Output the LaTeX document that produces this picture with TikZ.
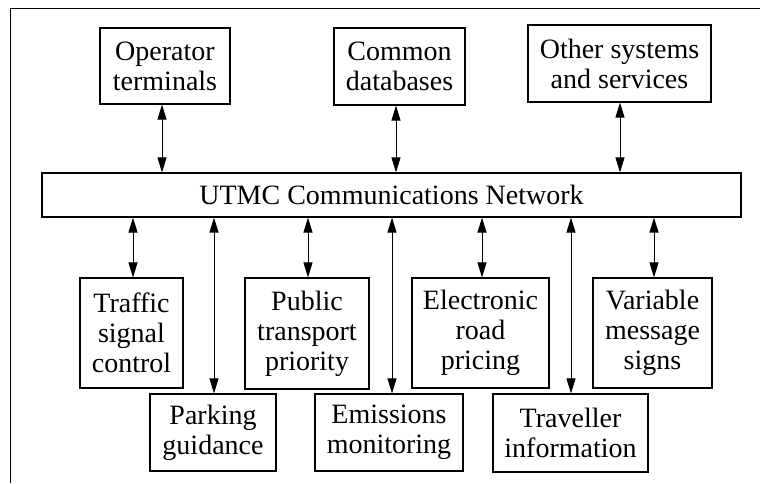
\documentclass[tikz,border=0pt]{standalone}
\usepackage{fontspec}
\setmainfont{Liberation Serif}
\usetikzlibrary{arrows.meta}
\tikzset{
  unit/.style={draw=black, line width=1.2pt, fill=white, inner sep=0pt,
    align=center, font=\fontsize{28}{30}\selectfont},
  link/.style={draw=black, line width=0.9pt,
    {Triangle[length=15pt,width=9pt]}-{Triangle[length=15pt,width=9pt]}},
  frame/.style={draw=black, line width=1pt}
}
\begin{document}
\begin{tikzpicture}[x=1pt,y=-1pt]
\useasboundingbox (0,0) rectangle (760,483);
% open frame along the top and left edges
\coordinate (fa) at (10,483);
\coordinate (fb) at (10,8);
\coordinate (fc) at (760,8);
\draw[frame] (fa) -- (fb) -- (fc);

% upper systems
\node[unit, minimum width=130pt, minimum height=76pt] (op) at (165,66) {Operator\\terminals};
\node[unit, minimum width=131pt, minimum height=77pt] (db) at (399.5,66.5) {Common\\databases};
\node[unit, minimum width=183pt, minimum height=77pt] (os) at (619.5,63.5) {Other systems\\and services};

% network bar
\node[unit, minimum width=699pt, minimum height=44pt] (net) at (391.5,195) {UTMC Communications Network};

% lower systems, first row
\node[unit, minimum width=103pt, minimum height=110pt] (tsc) at (131.5,333) {Traffic\\signal\\control};
\node[unit, minimum width=124pt, minimum height=111pt] (ptp) at (307,333.5) {Public\\transport\\priority};
\node[unit, minimum width=137pt, minimum height=110pt] (erp) at (480.5,333) {Electronic\\road\\pricing};
\node[unit, minimum width=119pt, minimum height=110pt] (vms) at (652.5,333) {Variable\\message\\signs};

% lower systems, second row
\node[unit, minimum width=126pt, minimum height=77pt] (pg) at (213,432.5) {Parking\\guidance};
\node[unit, minimum width=148pt, minimum height=77pt] (em) at (389,432.5) {Emissions\\monitoring};
\node[unit, minimum width=155pt, minimum height=78pt] (ti) at (570.5,433) {Traveller\\information};

% links to the network
\draw[link] ([xshift=-3pt]op.south) -- ([xshift=-3pt]op.south |- net.north);
\draw[link] ([xshift=-3.5pt]db.south) -- ([xshift=-3.5pt]db.south |- net.north);
\draw[link] ([xshift=0.5pt]os.south) -- ([xshift=0.5pt]os.south |- net.north);

\draw[link] ([xshift=1.5pt]net.south -| tsc.north) -- ([xshift=1.5pt]tsc.north);
\draw[link] ([xshift=1pt]net.south -| pg.north) -- ([xshift=1pt]pg.north);
\draw[link] ([xshift=1pt]net.south -| ptp.north) -- ([xshift=1pt]ptp.north);
\draw[link] ([xshift=3pt]net.south -| em.north) -- ([xshift=3pt]em.north);
\draw[link] ([xshift=1.5pt]net.south -| erp.north) -- ([xshift=1.5pt]erp.north);
\draw[link] ([xshift=0.5pt]net.south -| ti.north) -- ([xshift=0.5pt]ti.north);
\draw[link] ([xshift=1.5pt]net.south -| vms.north) -- ([xshift=1.5pt]vms.north);
\end{tikzpicture}
\end{document}
